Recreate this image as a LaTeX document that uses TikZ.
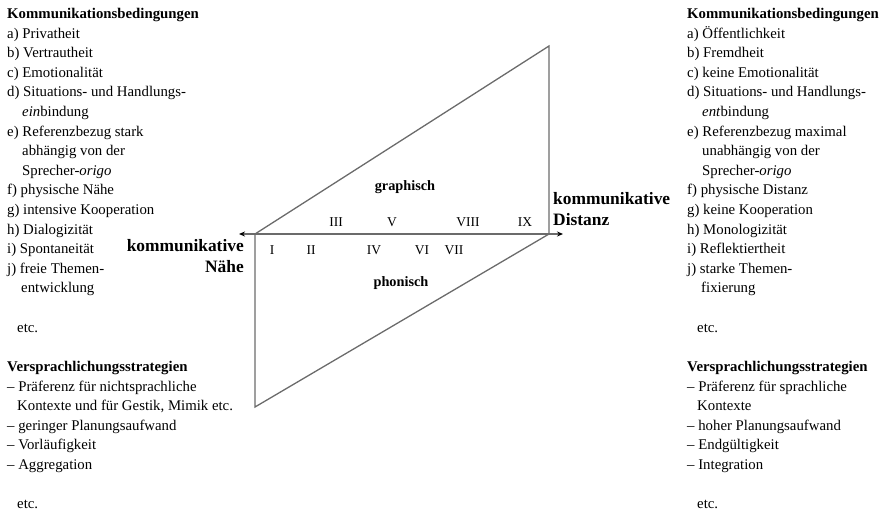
\documentclass[tikz,border=0pt]{standalone}
\usepackage{fontspec}
\setmainfont{Liberation Serif}
\usetikzlibrary{arrows.meta}
\begin{document}
\begin{tikzpicture}[x=1pt,y=-1pt,
  lst/.style={anchor=north west,inner sep=0pt,align=left,font=\fontsize{14.8}{19.6}\selectfont},
  big/.style={inner sep=0pt,font=\fontsize{17.4}{21}\selectfont\bfseries},
  num/.style={inner sep=0pt,font=\fontsize{13.5}{14}\selectfont},
  mode/.style={inner sep=0pt,font=\fontsize{14.3}{14}\selectfont\bfseries},
  edge/.style={draw=black!58,line width=1.3pt},
  axis/.style={draw=black!58,line width=1.3pt,{Stealth[length=6pt,width=5pt,black]}-{Stealth[length=6pt,width=5pt,black]}}]
\useasboundingbox (0,0) rectangle (885,511);
% geometry
\coordinate (TL) at (255,234);
\coordinate (BL) at (255,407);
\coordinate (TR) at (549,46);
\coordinate (BR) at (549,234);
\coordinate (AL) at (239,234);
\coordinate (AR) at (563,234);
\draw[edge] (BL) -- (TL) -- (TR) -- (BR) -- cycle;
\draw[axis] (AL) -- (AR);
% mode labels
\node[mode] (gr) at (405,187) {graphisch};
\node[mode] (ph) at (401,283) {phonisch};
% numerals
\node[num] (n3) at (336,222) {III};
\node[num] (n5) at (392,222) {V};
\node[num] (n8) at (468,222) {VIII};
\node[num] (n9) at (525,222) {IX};
\node[num] (n1) at (272,250) {I};
\node[num] (n2) at (311,250) {II};
\node[num] (n4) at (374,250) {IV};
\node[num] (n6) at (422,250) {VI};
\node[num] (n7) at (454,250) {VII};
% axis labels
\node[big,anchor=east,align=right] (nah) at (244,256) {kommunikative\\Nähe};
\node[big,anchor=west,align=left] (dist) at (553,209) {kommunikative\\Distanz};
% left lists
\node[lst] (lk) at (7,8) {\textbf{Kommunikationsbedingungen}\\
a) Privatheit\\
b) Vertrautheit\\
c) Emotionalität\\
d) Situations- und Handlungs-\\
\hspace*{15pt}\textit{ein}bindung\\
e) Referenzbezug stark\\
\hspace*{15pt}abhängig von der\\
\hspace*{15pt}Sprecher-\textit{origo}\\
f) physische Nähe\\
g) intensive Kooperation\\
h) Dialogizität\\
i) Spontaneität\\
j) freie Themen-\\
\hspace*{14pt}entwicklung\\[19.6pt]
\hspace*{10pt}etc.};
\node[lst] (lv) at (7,361) {\textbf{Versprachlichungsstrategien}\\
– Präferenz für nichtsprachliche\\
\hspace*{10pt}Kontexte und für Gestik, Mimik etc.\\
– geringer Planungsaufwand\\
– Vorläufigkeit\\
– Aggregation\\[19.6pt]
\hspace*{10pt}etc.};
% right lists
\node[lst] (rk) at (687,8) {\textbf{Kommunikationsbedingungen}\\
a) Öffentlichkeit\\
b) Fremdheit\\
c) keine Emotionalität\\
d) Situations- und Handlungs-\\
\hspace*{15pt}\textit{ent}bindung\\
e) Referenzbezug maximal\\
\hspace*{15pt}unabhängig von der\\
\hspace*{15pt}Sprecher-\textit{origo}\\
f) physische Distanz\\
g) keine Kooperation\\
h) Monologizität\\
i) Reflektiertheit\\
j) starke Themen-\\
\hspace*{14pt}fixierung\\[19.6pt]
\hspace*{10pt}etc.};
\node[lst] (rv) at (687,361) {\textbf{Versprachlichungsstrategien}\\
– Präferenz für sprachliche\\
\hspace*{10pt}Kontexte\\
– hoher Planungsaufwand\\
– Endgültigkeit\\
– Integration\\[19.6pt]
\hspace*{10pt}etc.};
\end{tikzpicture}
\end{document}
